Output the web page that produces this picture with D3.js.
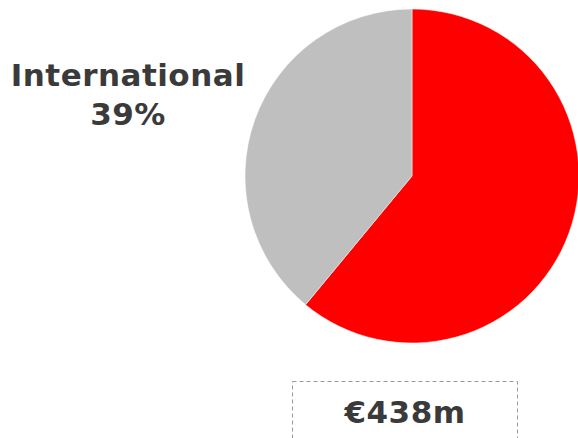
<!DOCTYPE html>
<html>
<head>
<meta charset="utf-8">
<script src="https://cdn.jsdelivr.net/npm/d3@7"></script>
<style>
  html, body { margin: 0; padding: 0; background: #fff; }
  svg { display: block; }
</style>
</head>
<body>
<svg id="chart" width="578" height="438"></svg>
<script>
// Revenue split by region
const segments = ["Domestic", "International"];
const shares = [61, 39];
const colors = ["#FF0000", "#BFBFBF"];
const totalLabel = "€438m";

const svg = d3.select("#chart");
const cx = 412, cy = 176, radius = 167;

const pie = d3.pie().sort(null).value(d => d)(shares);
const arc = d3.arc().innerRadius(0).outerRadius(radius);

svg.append("g")
  .attr("transform", `translate(${cx},${cy})`)
  .selectAll("path")
  .data(pie)
  .join("path")
  .attr("d", arc)
  .attr("fill", (d, i) => colors[i])
  .attr("stroke", "#fff")
  .attr("stroke-width", 0.5);

const font = "'DejaVu Sans', Verdana, sans-serif";
const txt = "#3a3a3a";

// International label
const lab = svg.append("text")
  .attr("text-anchor", "middle")
  .attr("font-family", font)
  .attr("font-weight", "bold")
  .attr("font-size", 31)
  .attr("letter-spacing", 0.5)
  .attr("fill", txt);
lab.append("tspan").attr("x", 128).attr("y", 86).text(segments[1]);
lab.append("tspan").attr("x", 128).attr("y", 125).text(shares[1] + "%");

// Total box
svg.append("rect")
  .attr("x", 292.5).attr("y", 381.5)
  .attr("width", 225).attr("height", 80)
  .attr("fill", "none")
  .attr("stroke", "#999")
  .attr("stroke-width", 1)
  .attr("stroke-dasharray", "4,3");

svg.append("text")
  .attr("x", 405).attr("y", 423)
  .attr("text-anchor", "middle")
  .attr("font-family", font)
  .attr("font-weight", "bold")
  .attr("font-size", 31)
  .attr("letter-spacing", 0.5)
  .attr("fill", txt)
  .text(totalLabel);
</script>
</body>
</html>
